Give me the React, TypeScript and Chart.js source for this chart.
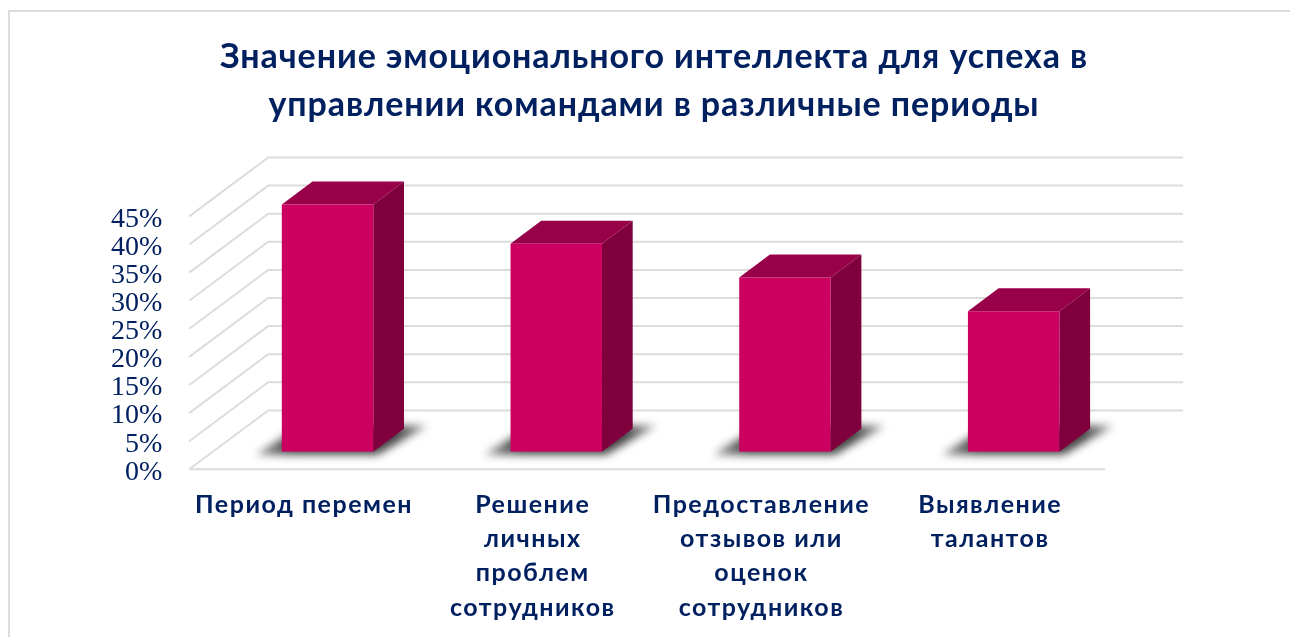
import React, { useEffect, useRef } from "react";
import { Chart, registerables } from "chart.js";

Chart.register(...registerables);

const categories = [
  ["Период перемен"],
  ["Решение", "личных", "проблем", "сотрудников"],
  ["Предоставление", "отзывов или", "оценок", "сотрудников"],
  ["Выявление", "талантов"],
];
const values = [44, 37, 31, 25];
const titleLines = [
  "Значение эмоционального интеллекта для успеха в",
  "управлении командами в различные периоды",
];

const NAVY = "#002060";
const GRID = "#dcdcdc";
const FONT = 'Lato';

const floorPlugin = {
  id: "floor3d",
  beforeDatasetsDraw(chart: any) {
    const { ctx, scales } = chart;
    const y = scales.y;
    const x = scales.x;
    const frontShift = 17.6;
    const backShift = -41.3;
    const frontL = x.left - 24;
    const backL = x.left + 55;
    const backR = x.right + 55;
    const frontR = x.right - 23;
    ctx.save();
    ctx.strokeStyle = GRID;
    ctx.lineWidth = 2;
    y.ticks.forEach((t: any) => {
      const p = y.getPixelForValue(t.value);
      ctx.beginPath();
      ctx.moveTo(frontL, p + frontShift);
      ctx.lineTo(backL, p + backShift);
      ctx.lineTo(backR, p + backShift);
      ctx.stroke();
    });
    const base = y.getPixelForValue(0) + frontShift;
    ctx.beginPath();
    ctx.moveTo(frontL, base);
    ctx.lineTo(frontR, base);
    ctx.stroke();

    const meta = chart.getDatasetMeta(0);
    const dx = 30.7;
    const dy = 23;
    meta.data.forEach((b: any) => {
      const l = b.x - b.width / 2;
      const r = b.x + b.width / 2;
      const top = b.y;
      const bot = b.base;
      // cast shadow on the floor
      ctx.save();
      ctx.filter = "blur(4px)";
      const g = ctx.createLinearGradient(l - 28, 0, r + 56, 0);
      g.addColorStop(0, "#9a9a9a");
      g.addColorStop(0.22, "#444444");
      g.addColorStop(0.8, "#444444");
      g.addColorStop(1, "#9a9a9a");
      ctx.fillStyle = g;
      ctx.beginPath();
      ctx.moveTo(l - 26, bot + 3);
      ctx.lineTo(r + 4, bot + 3);
      ctx.lineTo(r + 54, bot - 26);
      ctx.lineTo(l + 20, bot - 26);
      ctx.closePath();
      ctx.fill();
      ctx.restore();
      // top face
      ctx.fillStyle = "#99004a";
      ctx.beginPath();
      ctx.moveTo(l, top);
      ctx.lineTo(l + dx, top - dy);
      ctx.lineTo(r + dx, top - dy);
      ctx.lineTo(r, top);
      ctx.closePath();
      ctx.fill();
      // side face
      ctx.fillStyle = "#7f003c";
      ctx.beginPath();
      ctx.moveTo(r, top);
      ctx.lineTo(r + dx, top - dy);
      ctx.lineTo(r + dx, bot - dy);
      ctx.lineTo(r, bot);
      ctx.closePath();
      ctx.fill();
    });
    ctx.restore();
  },
  afterDatasetsDraw(chart: any) {
    chart.ctx.letterSpacing = "1.5px";
  },
};

const titlePlugin = {
  id: "spacedTitle",
  afterDraw(chart: any) {
    const { ctx } = chart;
    ctx.letterSpacing = "0px";
    ctx.save();
    ctx.letterSpacing = "0.9px";
    ctx.font = `bold 34px ${FONT}`;
    ctx.fillStyle = NAVY;
    ctx.textAlign = "center";
    ctx.textBaseline = "middle";
    ctx.fillText(titleLines[0], 654, 57);
    ctx.fillText(titleLines[1], 654, 105);
    ctx.restore();
    ctx.letterSpacing = "0px";
  },
};

export default function App() {
  const ref = useRef<HTMLCanvasElement>(null);
  useEffect(() => {
    const chart = new Chart(ref.current as HTMLCanvasElement, {
      type: "bar",
      data: {
        labels: categories,
        datasets: [
          {
            data: values,
            backgroundColor: "#cc0060",
            barPercentage: 0.4,
            categoryPercentage: 1,
          },
        ],
      },
      plugins: [floorPlugin, titlePlugin],
      options: {
        animation: false,
        responsive: false,
        layout: { padding: { top: 198.8, left: 0, right: 162, bottom: 0 } },
        plugins: { legend: { display: false }, title: { display: false }, tooltip: { enabled: false } },
        scales: {
          x: {
            grid: { display: false, drawTicks: false },
            border: { display: false },
            afterFit(s: any) {
              s.height = 185.3;
            },
            ticks: {
              z: 1,
              padding: 36,
              maxRotation: 0,
              autoSkip: false,
              labelOffset: -23.5,
              color: NAVY,
              font: { family: FONT, size: 25, weight: "bold", lineHeight: 1.37 },
            },
          },
          y: {
            min: 0,
            max: 45,
            grid: { display: false, drawTicks: false },
            border: { display: false },
            afterFit(s: any) {
              s.width = 213.2;
            },
            ticks: {
              stepSize: 5,
              autoSkip: false,
              padding: 51,
              labelOffset: 20.6,
              color: NAVY,
              font: { family: '"Liberation Serif"', size: 28, lineHeight: 1 },
              callback: (v: any) => v + "%",
            },
          },
        },
      },
    });
    return () => chart.destroy();
  }, []);
  return (
    <div style={{ position: "fixed", left: 0, top: 0, width: 1290, height: 637, background: "#fff", overflow: "hidden" }}>
      <div style={{ position: "absolute", left: 7.5, top: 10, right: 0, height: 2, background: "#dcdcdc" }} />
      <div style={{ position: "absolute", left: 7.5, top: 10, bottom: 0, width: 2, background: "#dcdcdc" }} />
      <canvas ref={ref} width={1290} height={637} style={{ position: "absolute", left: 0, top: 0, display: "block" }} />
    </div>
  );
}
